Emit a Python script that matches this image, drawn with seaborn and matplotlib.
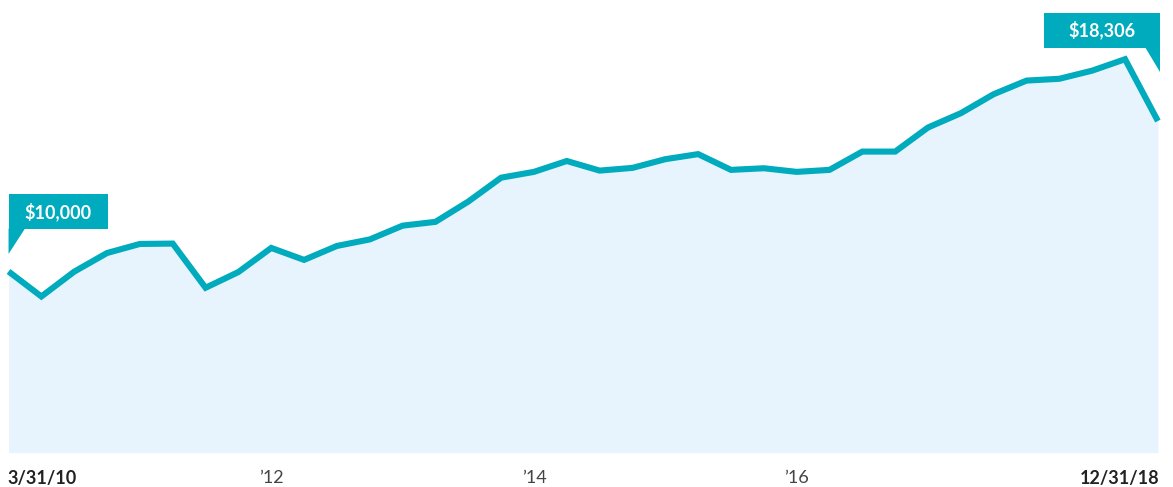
import matplotlib
matplotlib.use("Agg")
import matplotlib.pyplot as plt
import matplotlib.patches as mpatches
import numpy as np
import pandas as pd
import seaborn as sns

sns.set_theme(style="white")
plt.rcParams["font.family"] = ["Lato", "DejaVu Sans"]

# Growth of $10,000, quarterly 3/31/10 .. 12/31/18
quarters = pd.period_range("2010Q1", "2018Q4", freq="Q")
values = [10000, 8620, 9990, 11020, 11520, 11540, 9100, 9970,
          11300, 10640, 11410, 11770, 12530, 12740, 13860, 15180,
          15500, 16100, 15570, 15720, 16200, 16480, 15610, 15700,
          15500, 15610, 16620, 16620, 17950, 18740, 19790, 20540,
          20640, 21090, 21720, 18306]
tick_labels = ["3/31/10", "\u201912", "\u201914", "\u201916", "12/31/18"]
tick_index = [0, 8, 16, 24, 35]
start_label = "$10,000"
end_label = "$18,306"

line_color = "#00abbd"
fill_color = "#e8f4fd"

df = pd.DataFrame({"idx": np.arange(len(values)), "value": values,
                   "quarter": quarters.astype(str)})

fig = plt.figure(figsize=(11.73, 4.87), dpi=100)
ax = fig.add_axes([0, 0, 1, 1])

ax.fill_between(df["idx"], 0, df["value"], color=fill_color, linewidth=0)
sns.lineplot(data=df, x="idx", y="value", ax=ax, color=line_color,
             linewidth=4.4, solid_joinstyle="miter", solid_capstyle="butt")

ax.set_xlim(-0.26, 35.46)
ax.set_ylim(-1900, 24990)
ax.axis("off")

# x labels placed under the fill
trans = ax.get_xaxis_transform()
for i, (pos, lab) in enumerate(zip(tick_index, tick_labels)):
    bold = i in (0, len(tick_labels) - 1)
    ha = "left" if i == 0 else ("right" if i == len(tick_labels) - 1 else "center")
    xpos = pos - 0.02 if i == 0 else pos
    if i == len(tick_labels) - 1:
        xpos = pos + 0.05
    ax.text(xpos, 0.018, lab, transform=trans, ha=ha, va="center",
            fontsize=13, fontweight="bold" if bold else "normal",
            color="#222222" if bold else "#444444")

# callouts anchored on first / last points (display pixel offsets)
fig.canvas.draw()


def callout(x, y, box, tri, text):
    px, py = ax.transData.transform((x, y))
    x0, x1, y0, y1 = box
    rect = mpatches.Rectangle((px + x0, py + y0), x1 - x0, y1 - y0,
                              transform=None, color=line_color, lw=0)
    poly = mpatches.Polygon([(px + a, py + b) for a, b in tri],
                            closed=True, transform=None, color=line_color, lw=0)
    fig.patches.extend([rect, poly])
    fig.text((px + (x0 + x1) / 2) / fig.bbox.width,
             (py + (y0 + y1) / 2) / fig.bbox.height, text,
             ha="center", va="center", color="white", fontsize=13,
             fontweight="bold")


callout(0, values[0], (0, 99, 42.5, 77.5),
        [(0, 43), (16.5, 43), (0, 17.5)], start_label)
callout(len(values) - 1, values[-1], (-114, 2, 73.5, 108.5),
        [(-13, 74), (2, 74), (2, 49)], end_label)

fig.savefig("out.png", dpi=100)
